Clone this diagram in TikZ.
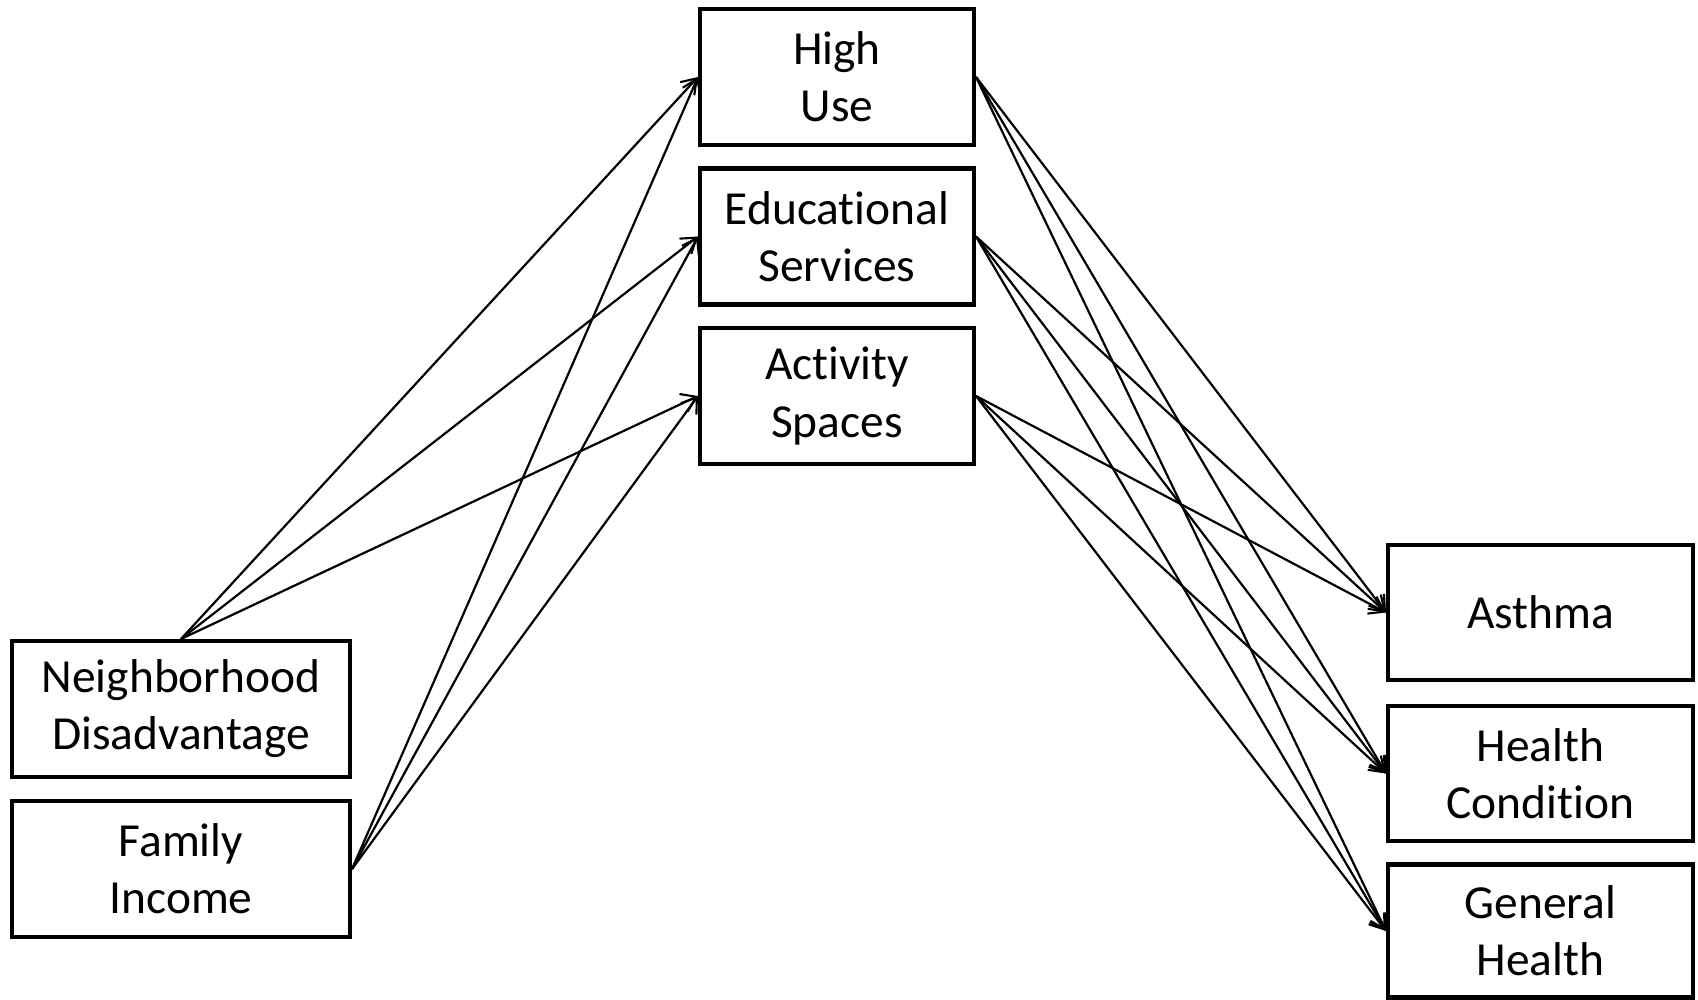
\documentclass[tikz,border=0pt]{standalone}
\usepackage{fontspec}
\setmainfont{Carlito}[Ligatures={NoCommon}]
\usepackage{tikz}
\usetikzlibrary{arrows.meta, positioning}

\begin{document}
\begin{tikzpicture}[x=0.02cm, y=-0.02cm, >={Straight Barb[length=8pt,width=11pt,line width=1.2pt]}]
    \tikzset{
      varbox/.style={draw, line width=2.3pt, align=center, inner sep=0pt,
        minimum height=136*0.02cm, font=\fontsize{27}{32.5}\selectfont},
      path/.style={->, line width=1.25pt}
    }
    \useasboundingbox (0,0) rectangle (1698,1000);

    % exogenous
    \node[varbox, minimum width=338*0.02cm] (nbhd) at (181, 709) {Neighborhood\\Disadvantage};
    \node[varbox, minimum width=338*0.02cm] (income) at (181, 869) {Family\\Income};

    % mediators
    \node[varbox, minimum width=274*0.02cm] (highuse) at (837, 77) {High\\Use};
    \node[varbox, minimum width=274*0.02cm] (eduserv) at (837, 236.5) {Educational\\Services};
    \node[varbox, minimum width=274*0.02cm] (actspace) at (837, 396) {Activity\\Spaces};

    % outcomes
    \node[varbox, minimum width=305*0.02cm, minimum height=135*0.02cm] (asthma) at (1540.5, 612.5) {Asthma};
    \node[varbox, minimum width=305*0.02cm, minimum height=135*0.02cm] (condition) at (1540.5, 773.5) {Health\\Condition};
    \node[varbox, minimum width=305*0.02cm, minimum height=133*0.02cm] (genhealth) at (1540.5, 931) {General\\Health};

    \foreach \m in {highuse, eduserv, actspace} {
      \draw[path] (nbhd.north) -- (\m.west);
      \draw[path] (income.east) -- (\m.west);
      \foreach \o in {asthma, condition, genhealth}
        \draw[path] (\m.east) -- (\o.west);
    }
\end{tikzpicture}
\end{document}
